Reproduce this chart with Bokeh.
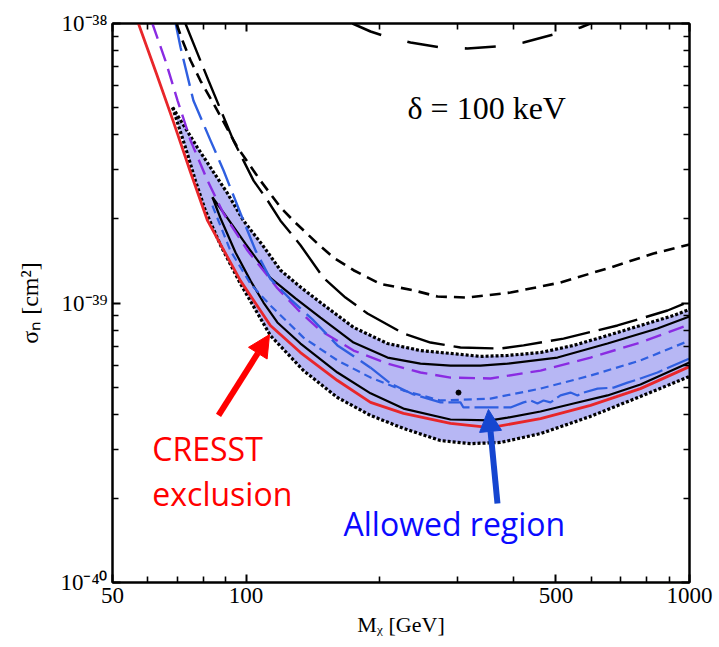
from bokeh.plotting import figure
from bokeh.models import Range1d, FixedTicker, CustomJSTickFormatter, LogAxis, Arrow, NormalHead
from bokeh.core.properties import value
from bokeh.embed import file_html
from bokeh.resources import INLINE

# ---------------- data: M_chi [GeV], sigma_n [cm^2] ----------------
cresst_m = [57.2, 62.8, 68.7, 75.0, 81.9, 97.2, 113.5, 132.7, 160.8, 190.9, 226.5, 289.1, 355.9, 461.4, 598.2, 775.2, 1000]
cresst_s = [1.00e-38, 6.62e-39, 4.42e-39, 2.93e-39, 1.97e-39, 1.20e-39, 8.31e-40, 6.65e-40, 5.28e-40, 4.41e-40,
            4.03e-40, 3.71e-40, 3.58e-40, 3.86e-40, 4.30e-40, 4.94e-40, 5.92e-40]

band_upper_m = [68.3, 71.2, 77.7, 83.2, 90.8, 98.7, 109.0, 119.6, 132.7, 147.2, 174.8, 208.5, 247.4, 289.1, 337.8,
                388.7, 461.4, 547.6, 653.3, 775.2, 920.4, 1000]
band_upper_s = [5.01e-39, 4.50e-39, 3.60e-39, 3.05e-39, 2.47e-39, 1.97e-39, 1.61e-39, 1.31e-39, 1.14e-39, 1.004e-39,
                8.18e-40, 7.16e-40, 6.76e-40, 6.60e-40, 6.44e-40, 6.49e-40, 6.65e-40, 7.05e-40, 7.65e-40, 8.31e-40,
                9.02e-40, 9.48e-40]

band_lower_m = [68.3, 70.4, 73.4, 76.9, 81.0, 87.6, 97.2, 113.5, 134.8, 160.8, 190.9, 226.5, 274.5, 320.8, 374.8,
                461.4, 598.2, 775.2, 1000]
band_lower_s = [5.01e-39, 4.32e-39, 3.51e-39, 2.74e-39, 2.14e-39, 1.61e-39, 1.17e-39, 7.65e-40, 5.73e-40, 4.59e-40,
                3.96e-40, 3.56e-40, 3.22e-40, 3.14e-40, 3.17e-40, 3.41e-40, 3.93e-40, 4.63e-40, 5.46e-40]

inner_upper_m = [84.0, 89.9, 99.7, 113.5, 129.3, 147.2, 174.8, 208.5, 247.4, 289.1, 337.8, 388.7, 503.9, 653.3, 846.8, 1000]
inner_upper_s = [2.39e-39, 2.06e-39, 1.63e-39, 1.23e-39, 1.038e-39, 8.87e-40, 7.22e-40, 6.38e-40, 6.07e-40, 5.97e-40,
                 5.97e-40, 6.07e-40, 6.38e-40, 7.16e-40, 8.11e-40, 8.95e-40]

inner_lower_m = [84.0, 87.6, 94.7, 102.4, 109.5, 117.7, 132.7, 160.8, 190.9, 226.5, 289.1, 355.9, 388.7, 461.4, 547.6,
                 653.3, 775.2, 1000]
inner_lower_s = [2.39e-39, 2.01e-39, 1.516e-39, 1.20e-39, 1.004e-39, 8.52e-40, 7.16e-40, 5.64e-40, 4.75e-40, 4.19e-40,
                 3.83e-40, 3.80e-40, 3.89e-40, 4.09e-40, 4.37e-40, 4.67e-40, 5.11e-40, 6.12e-40]

purple_m = [61.5, 65.8, 70.1, 75.0, 81.9, 89.0, 100.8, 117.7, 132.7, 147.2, 174.8, 208.5, 247.4, 289.1, 355.9, 461.4,
            598.2, 775.2, 1000]
purple_s = [1.00e-38, 7.37e-39, 5.30e-39, 3.81e-39, 2.74e-39, 2.09e-39, 1.54e-39, 1.13e-39, 9.25e-40, 7.97e-40,
            6.76e-40, 6.07e-40, 5.64e-40, 5.41e-40, 5.37e-40, 5.73e-40, 6.38e-40, 7.22e-40, 8.38e-40]

blue_long_m = [69.4, 71.2, 76.1, 83.2, 89.0, 97.2, 105.1, 113.5, 126.0, 142.0, 160.8, 190.9]
blue_long_s = [1.00e-38, 8.21e-39, 5.30e-39, 3.81e-39, 2.98e-39, 2.09e-39, 1.54e-39, 1.22e-39, 1.03e-39, 8.66e-40,
               7.05e-40, 5.87e-40]

blue_wiggle_m = [190.9, 211.8, 238.6, 274.5, 304.5, 309.2, 394.8, 422.5, 438.0, 454.2, 468.6, 485.9, 511.9, 539.1,
                 559.1, 576.8, 620.5, 674.3, 725.0, 775.2, 846.8, 1000]
blue_wiggle_s = [5.87e-40, 5.15e-40, 4.71e-40, 4.41e-40, 4.41e-40, 4.23e-40, 4.23e-40, 4.41e-40, 4.48e-40, 4.37e-40,
                 4.48e-40, 4.41e-40, 4.67e-40, 4.78e-40, 4.67e-40, 4.78e-40, 4.94e-40, 4.98e-40, 5.19e-40, 5.37e-40,
                 5.64e-40, 6.33e-40]

blue_short_m = [84.0, 92.2, 102.4, 113.5, 134.8, 160.8, 190.9, 226.5, 274.5, 355.9, 461.4, 598.2, 775.2, 1000]
blue_short_s = [2.23e-39, 1.54e-39, 1.17e-39, 9.80e-40, 7.52e-40, 6.23e-40, 5.41e-40, 4.86e-40, 4.48e-40, 4.55e-40,
                4.94e-40, 5.50e-40, 6.23e-40, 7.34e-40]

black_short_m = [69.7, 71.9, 75.0, 78.9, 85.4, 95.7, 107.8, 119.6, 127.9, 145.0, 157.4, 174.8, 201.0, 238.6, 270.2,
                 315.8, 394.8, 511.9, 663.6, 829.3, 1000]
black_short_s = [1.00e-38, 8.69e-39, 7.37e-39, 6.25e-39, 5.01e-39, 3.60e-39, 2.74e-39, 2.20e-39, 1.97e-39, 1.63e-39,
                 1.455e-39, 1.31e-39, 1.17e-39, 1.11e-39, 1.055e-39, 1.046e-39, 1.09e-39, 1.184e-39, 1.34e-39,
                 1.503e-39, 1.62e-39]

black_long_m = [73.0, 82.3, 93.7, 104.0, 111.8, 119.6, 132.7, 149.5, 167.6, 187.9, 226.5, 260.6, 304.5, 374.8, 422.5,
                520.0, 688.2, 892.2, 1000]
black_long_s = [1.00e-38, 6.25e-39, 3.81e-39, 2.74e-39, 2.33e-39, 1.97e-39, 1.61e-39, 1.23e-39, 1.046e-39, 9.17e-40,
                7.78e-40, 7.22e-40, 6.93e-40, 6.87e-40, 7.05e-40, 7.46e-40, 8.31e-40, 9.40e-40, 1.0125e-39]

top_curve_m = [173.8, 190.9, 206.4, 234.9, 274.5, 315.8, 369.0, 422.5, 493.6, 568.0, 613.8]
top_curve_s = [1.00e-38, 9.36e-39, 8.99e-39, 8.55e-39, 8.21e-39, 8.14e-39, 8.28e-39, 8.55e-39, 9.13e-39, 9.68e-39,
               1.017e-38]

best_fit_m = [301.4]
best_fit_s = [4.78e-40]

x_major = [50, 100, 500, 1000]
x_minor = [60, 70, 80, 90, 200, 300, 400, 600, 700, 800, 900]
y_major = [1e-40, 1e-39, 1e-38]
y_minor = [2e-40, 3e-40, 4e-40, 5e-40, 6e-40, 7e-40, 8e-40, 9e-40,
           2e-39, 3e-39, 4e-39, 5e-39, 6e-39, 7e-39, 8e-39, 9e-39]

# ---------------- figure ----------------
p = figure(frame_width=577, frame_height=559, x_axis_type="log", y_axis_type="log",
           x_range=Range1d(50, 1000), y_range=Range1d(1e-40, 1e-38),
           output_backend="svg", toolbar_location=None,
           min_border_left=112, min_border_right=29, min_border_top=23, min_border_bottom=64)
p.grid.visible = False
p.outline_line_color = "black"
p.outline_line_width = 2
p.background_fill_color = "white"
p.border_fill_color = "white"

SERIF = "Liberation Serif"

xfmt = CustomJSTickFormatter(code="return String(Math.round(tick));")
yfmt = CustomJSTickFormatter(code="""
const e = Math.round(Math.log10(tick));
const sup = {'-':'\u207b','0':'\u2070','1':'\u00b9','2':'\u00b2','3':'\u00b3','4':'\u2074',
             '5':'\u2075','6':'\u2076','7':'\u2077','8':'\u2078','9':'\u2079'};
return '10' + String(e).split('').map(c => sup[c]).join('');
""")
blank = CustomJSTickFormatter(code="return '';")

xb = p.below[0]
yl = p.left[0]
xb.ticker = FixedTicker(ticks=x_major, minor_ticks=x_minor)
xb.formatter = xfmt
yl.ticker = FixedTicker(ticks=y_major, minor_ticks=y_minor)
yl.formatter = yfmt

xt = LogAxis(ticker=FixedTicker(ticks=x_major, minor_ticks=x_minor), formatter=blank)
yr = LogAxis(ticker=FixedTicker(ticks=y_major, minor_ticks=y_minor), formatter=blank)
p.add_layout(xt, "above")
p.add_layout(yr, "right")

for ax in (xb, yl, xt, yr):
    ax.major_tick_in = 8
    ax.major_tick_out = 0
    ax.minor_tick_in = 6
    ax.minor_tick_out = 0
    ax.axis_line_width = 2
    ax.major_tick_line_width = 2
    ax.minor_tick_line_width = 1.6
    ax.major_label_text_font = SERIF
    ax.major_label_text_font_size = "23px"
    ax.major_label_text_color = "black"
    ax.major_label_standoff = 5
    ax.axis_label_text_font = SERIF
    ax.axis_label_text_font_style = "normal"
    ax.axis_label_text_color = "black"

xt.major_label_standoff = 0
yr.major_label_standoff = 0

xb.axis_label = "M\u1d6a [GeV]"
xb.axis_label_text_font_size = "22px"
xb.axis_label_standoff = 6
yl.axis_label = "\u03c3\u2099 [cm\u00b2]"
yl.axis_label_text_font_size = "24px"
yl.axis_label_standoff = 14

# ---------------- glyphs ----------------
band_x = band_upper_m + band_lower_m[::-1]
band_y = band_upper_s + band_lower_s[::-1]
p.patch(band_x, band_y, fill_color="#b7b7f4", fill_alpha=1.0, line_color=None)

DOT = dict(line_color="black", line_width=3.2, line_dash="3 2")
p.line(band_upper_m, band_upper_s, **DOT)
p.line(band_lower_m, band_lower_s, **DOT)

p.line(inner_upper_m, inner_upper_s, line_color="black", line_width=2.2)
p.line(inner_lower_m, inner_lower_s, line_color="black", line_width=2.2)

p.line(purple_m, purple_s, line_color="#8a2be2", line_width=2.4, line_dash="16 8")
p.line(blue_short_m, blue_short_s, line_color="#2f5fe0", line_width=2.2, line_dash="8 5")
p.line(blue_long_m, blue_long_s, line_color="#2f5fe0", line_width=2.4, line_dash="28 8")
p.line(blue_wiggle_m, blue_wiggle_s, line_color="#2f5fe0", line_width=2.2, line_dash="24 5")

p.line(cresst_m, cresst_s, line_color="#e8262a", line_width=2.8)

p.line(black_short_m, black_short_s, line_color="black", line_width=2.6, line_dash="11 7")
p.line(black_long_m, black_long_s, line_color="black", line_width=2.4, line_dash="40 9")
p.line(top_curve_m, top_curve_s, line_color="black", line_width=2.6, line_dash="31 27")

p.scatter(best_fit_m, best_fit_s, size=5, color="black")

# ---------------- annotations ----------------
p.text(x=[231.3], y=[4.50e-39], text=["\u03b4 = 100 keV"], text_font=value(SERIF),
       text_font_size="32px", text_color="black", text_baseline="alphabetic", text_align="left", y_offset=-12)

p.text(x=[61.5, 61.5], y=[2.73e-40, 1.886e-40], text=["CRESST", "exclusion"], text_font=value("Open Sans"),
       text_font_size="32px", text_color="#ff0000", text_baseline="alphabetic", text_align="left", y_offset=-12)
p.text(x=[165.9], y=[1.497e-40], text=["Allowed region"], text_font=value("Open Sans"),
       text_font_size="32px", text_color="#0a0aff", text_baseline="alphabetic", text_align="left", y_offset=-10)

p.add_layout(Arrow(end=NormalHead(size=22, fill_color="#ff0000", line_color="#ff0000"),
                   x_start=86.7, y_start=3.96e-40, x_end=113.0, y_end=7.71e-40,
                   line_color="#ff0000", line_width=6))
p.add_layout(Arrow(end=NormalHead(size=22, fill_color="#1546d0", line_color="#1546d0"),
                   x_start=369.0, y_start=1.917e-40, x_end=352.1, y_end=4.16e-40,
                   line_color="#1546d0", line_width=6))

open("out.html", "w").write(file_html(p, INLINE, title="delta = 100 keV"))
